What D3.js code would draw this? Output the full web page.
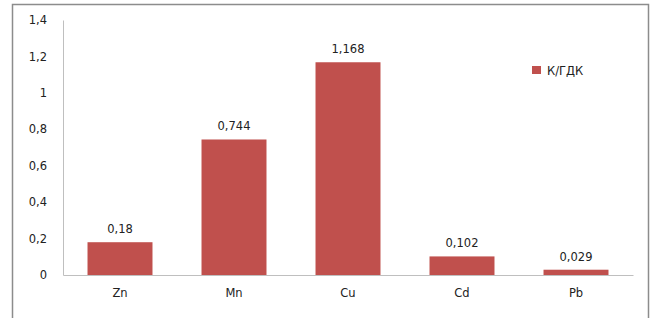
<!DOCTYPE html>
<html>
<head>
<meta charset="utf-8">
<script src="https://cdn.jsdelivr.net/npm/d3@7"></script>
<style>
  body { margin: 0; background: #fff; overflow: hidden; }
  svg { display: block; }
  text { font-family: "DejaVu Sans", Verdana, sans-serif; fill: #222; }
</style>
</head>
<body>
<div id="chart"></div>
<script>
const elements = ["Zn", "Mn", "Cu", "Cd", "Pb"];
const ratio = [0.18, 0.744, 1.168, 0.102, 0.029];
const yTicks = [0, 0.2, 0.4, 0.6, 0.8, 1, 1.2, 1.4];
const seriesName = "К/ГДК";

const width = 657, height = 318;
const margin = {top: 20, right: 24, bottom: 43, left: 63};
const innerWidth = width - margin.left - margin.right;
const innerHeight = height - margin.top - margin.bottom;
const barColor = "#c0504d";
const fmt = v => String(v).replace(".", ",");

const svg = d3.select("#chart")
    .append("svg")
    .attr("width", width)
    .attr("height", height);

// outer frame (bottom edge runs past the picture)
svg.append("path")
    .attr("d", `M12.5,${height} V4.5 H648.5 V${height}`)
    .attr("fill", "none")
    .attr("stroke", "#8c8c8c")
    .attr("stroke-width", 1.5);

const g = svg.append("g")
    .attr("transform", `translate(${margin.left},${margin.top})`);

const x = d3.scaleBand().domain(elements).range([0, innerWidth]).paddingInner(0.43).paddingOuter(0.215);
const y = d3.scaleLinear().domain([0, 1.4]).range([innerHeight, 0]);

// y axis
const yAxis = g.append("g")
    .attr("font-size", 11.5)
    .attr("font-family", "DejaVu Sans, Verdana, sans-serif")
    .call(d3.axisLeft(y).tickValues(yTicks).tickFormat(fmt).tickSize(0).tickPadding(16));
yAxis.attr("font-size", 11.5).attr("font-family", "DejaVu Sans, Verdana, sans-serif");
yAxis.select(".domain").attr("stroke", "#bfbfbf");
yAxis.selectAll("text").attr("fill", "#222");

// x axis
const xAxis = g.append("g")
    .attr("transform", `translate(0,${innerHeight})`)
    .call(d3.axisBottom(x).tickSize(0).tickPadding(14));
xAxis.attr("font-size", 11.5).attr("font-family", "DejaVu Sans, Verdana, sans-serif");
xAxis.select(".domain").attr("stroke", "#bfbfbf");
xAxis.selectAll("text").attr("fill", "#222");

// bars
g.selectAll(".bar")
    .data(elements)
    .join("rect")
    .attr("class", "bar")
    .attr("x", d => x(d))
    .attr("width", x.bandwidth())
    .attr("y", (d, i) => y(ratio[i]))
    .attr("height", (d, i) => innerHeight - y(ratio[i]))
    .attr("fill", barColor);

// value labels
g.selectAll(".val")
    .data(elements)
    .join("text")
    .attr("class", "val")
    .attr("x", d => x(d) + x.bandwidth() / 2)
    .attr("y", (d, i) => y(ratio[i]) - 9)
    .attr("text-anchor", "middle")
    .attr("font-size", 11.5)
    .text((d, i) => fmt(ratio[i]));

// legend
const legend = svg.append("g").attr("transform", "translate(532,66)");
legend.append("rect").attr("width", 9).attr("height", 8).attr("fill", barColor);
legend.append("text").attr("x", 15).attr("y", 8.5).attr("font-size", 11.5).text(seriesName);
</script>
</body>
</html>
